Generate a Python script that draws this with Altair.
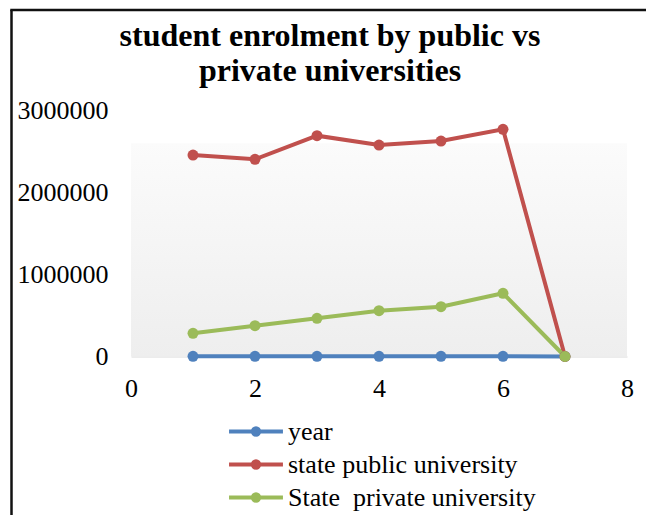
import altair as alt
import pandas as pd

# ---- data ----
x_vals = [1, 2, 3, 4, 5, 6, 7]
year_vals = [2011, 2012, 2013, 2014, 2015, 2016, 0]
public_vals = [2457000, 2405000, 2693000, 2579000, 2628000, 2771000, 0]
private_vals = [283000, 376000, 466000, 559000, 607000, 771000, 0]
series_names = ["year", "state public university", "State\u00a0 private university"]
series_colors = ["#4F81BD", "#C0504D", "#9BBB59"]
title_lines = ["student enrolment by public vs", "private universities"]

rows = []
for name, vals in zip(series_names, [year_vals, public_vals, private_vals]):
    for xv, v in zip(x_vals, vals):
        rows.append({"x": xv, "value": v, "series": name})
df = pd.DataFrame(rows)

FONT = "Liberation Serif"
PLOT_W, PLOT_H = 496, 246
PAD_L, PAD_T = 131, 110.5

# line with a dot: horizontal segment plus concentric rings that fill a disc when stroked
sym_path = (
    "M-2.45,0H2.45"
    "M-0.3,0A0.3,0.3,0,1,1,0.3,0A0.3,0.3,0,1,1,-0.3,0Z"
    "M-0.14,0A0.14,0.14,0,1,1,0.14,0A0.14,0.14,0,1,1,-0.14,0Z"
)
legend = alt.Legend(
    title=None,
    orient="none",
    legendX=112,
    legendY=308,
    symbolType=sym_path,
    symbolSize=484,
    symbolStrokeWidth=3.8,
    symbolOpacity=1,
    labelFont=FONT,
    labelFontSize=26,
    labelColor="black",
    labelOffset=19,
    rowPadding=7,
    labelLimit=400,
)

color = alt.Color(
    "series:N",
    scale=alt.Scale(domain=series_names, range=series_colors),
    sort=series_names,
    legend=legend,
)

x_enc = alt.X(
    "x:Q",
    scale=alt.Scale(domain=[0, 8], nice=False, zero=False),
    axis=alt.Axis(
        title=None,
        values=[0, 2, 4, 6, 8],
        format="d",
        grid=False,
        ticks=False,
        tickSize=0,
        domain=True,
        domainColor="#d9d9d9",
        domainWidth=1.2,
        labelFont=FONT,
        labelFontSize=26,
        labelColor="black",
        labelBaseline="middle",
        labelPadding=32,
        labelFlush=False,
    ),
)
y_enc = alt.Y(
    "value:Q",
    scale=alt.Scale(domain=[0, 3000000], nice=False),
    axis=alt.Axis(
        title=None,
        values=[0, 1000000, 2000000, 3000000],
        format="d",
        grid=False,
        ticks=False,
        tickSize=0,
        domain=False,
        labelFont=FONT,
        labelFontSize=26,
        labelColor="black",
        labelPadding=23,
        labelFlush=False,
    ),
)

one = pd.DataFrame({"a": [0]})

bg = alt.Chart(one).mark_rect(
    color=alt.Gradient(
        gradient="linear",
        stops=[
            alt.GradientStop(color="#fbfbfb", offset=0),
            alt.GradientStop(color="#eeeeee", offset=1),
        ],
        x1=0, x2=0, y1=0, y2=1,
    )
).encode(
    x=alt.datum(0, type="quantitative"),
    x2=alt.datum(8),
    y=alt.datum(2600000, type="quantitative"),
    y2=alt.datum(0),
)

lines = alt.Chart(df).mark_line(strokeWidth=4).encode(
    x=x_enc, y=y_enc, color=color, detail="series:N"
)
points = alt.Chart(df).mark_circle(size=120, opacity=1).encode(
    x=x_enc, y=y_enc, color=color
)

border_left = alt.Chart(one).mark_rule(color="#111111", strokeWidth=2.5).encode(
    x=alt.value(11.5 - PAD_L), y=alt.value(10 - PAD_T), y2=alt.value(515 - PAD_T)
)
border_top = alt.Chart(one).mark_rule(color="#111111", strokeWidth=2.5).encode(
    y=alt.value(10 - PAD_T), x=alt.value(10.25 - PAD_L), x2=alt.value(646 - PAD_L)
)

chart = (
    alt.layer(bg, lines, points, border_left, border_top)
    .properties(
        width=PLOT_W,
        height=PLOT_H,
        autosize=alt.AutoSizeParams(type="none"),
        padding={"left": PAD_L, "top": PAD_T, "right": 646 - PAD_L - PLOT_W, "bottom": 515 - PAD_T - PLOT_H},
        title=alt.TitleParams(
            text=title_lines,
            font=FONT,
            fontSize=32,
            fontWeight="bold",
            color="black",
            anchor="middle",
            lineHeight=35,
            dx=-49,
            dy=84,
            offset=5,
        ),
        background="white",
    )
    .configure_view(stroke=None)
)

chart.save("out.html", embed_options={"renderer": "svg", "actions": False})
